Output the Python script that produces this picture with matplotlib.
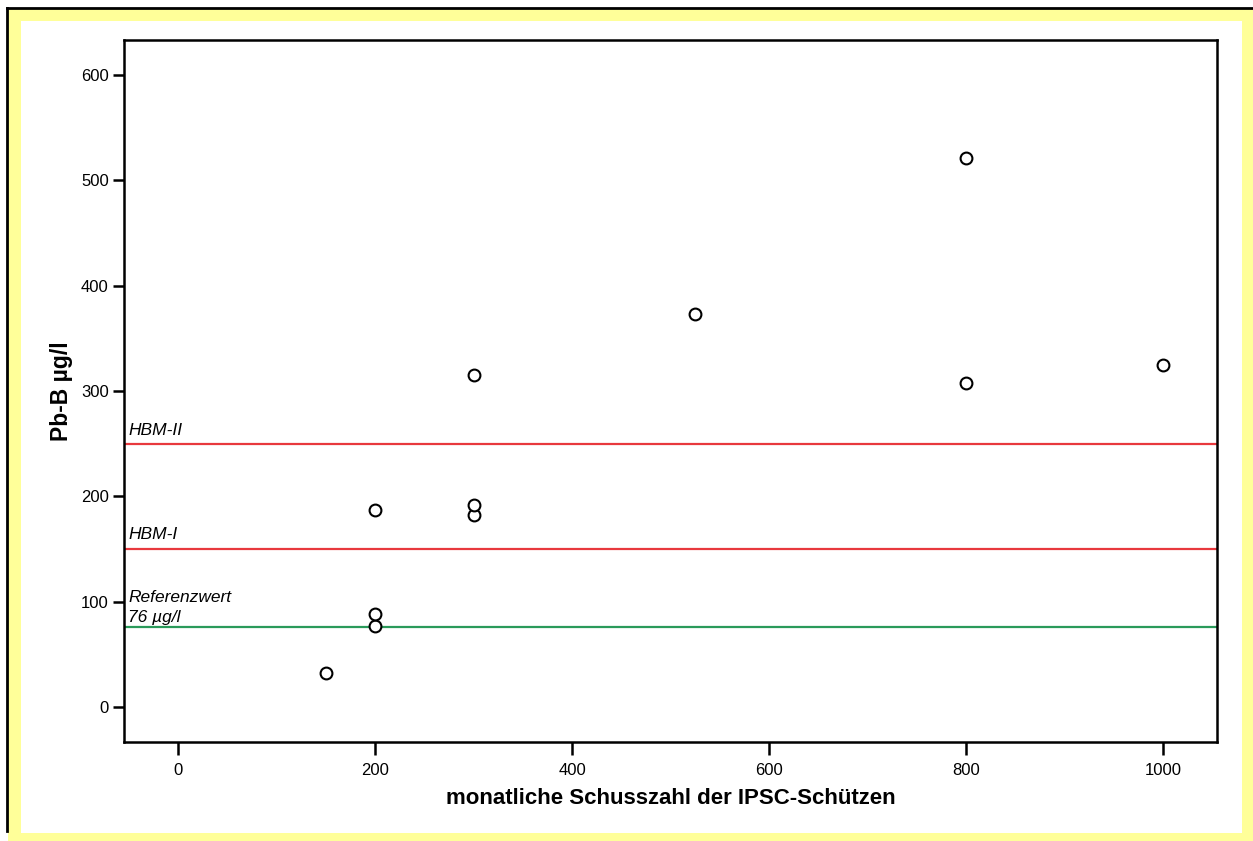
import matplotlib.pyplot as plt
from matplotlib.patches import Rectangle
from matplotlib.lines import Line2D

# monatliche Schusszahl vs. Blutbleispiegel
schusszahl = [150, 200, 200, 200, 300, 300, 300, 525, 800, 800, 1000]
pb_b = [32, 77, 88, 187, 182, 192, 315, 373, 308, 521, 325]

# Grenzwerte
hbm_ii = 250
hbm_i = 150
referenz = 76

x_ticks = [0, 200, 400, 600, 800, 1000]
y_ticks = [0, 100, 200, 300, 400, 500, 600]

plt.rcParams['font.family'] = ['Liberation Sans', 'DejaVu Sans']

W, H = 1253, 841
fig = plt.figure(figsize=(W / 100, H / 100), dpi=100, facecolor='white')

# gelber Rahmen mit schwarzer Kante links/oben
fig.patches.append(Rectangle((8 / W, 0), 1 - 8 / W, 1 - 9 / H, transform=fig.transFigure,
                             facecolor='#ffff99', edgecolor='none', zorder=-2))
fig.patches.append(Rectangle((21 / W, 1 - 833 / H), (1242 - 21) / W, (833 - 21) / H,
                             transform=fig.transFigure, facecolor='white', edgecolor='none', zorder=-1))
fig.lines.append(Line2D([7 / W, 7 / W], [1 - 8 / H, 1 - 831 / H], transform=fig.transFigure,
                        color='black', lw=2, zorder=-1))
fig.lines.append(Line2D([7 / W, 1], [1 - 8 / H, 1 - 8 / H], transform=fig.transFigure,
                        color='black', lw=2, zorder=-1))

ax = fig.add_axes([124 / W, 1 - 742 / H, (1217 - 124) / W, (742 - 40) / H])
ax.set_zorder(1)
ax.set_facecolor('none')

ax.axhline(hbm_ii, color='#e8383d', lw=1.6, zorder=2)
ax.axhline(hbm_i, color='#e8383d', lw=1.6, zorder=2)
ax.axhline(referenz, color='#2a9a5a', lw=1.6, zorder=2)

ax.plot(schusszahl, pb_b, 'o', ms=8.5, mfc='white', mec='black', mew=1.5, zorder=3)

lbl = dict(transform=ax.get_yaxis_transform(), style='italic', fontsize=12.5, va='baseline', ha='left')
ax.text(0.004, hbm_ii + 8.5, 'HBM-II', **lbl)
ax.text(0.004, hbm_i + 9.5, 'HBM-I', **lbl)
ax.text(0.004, referenz + 23.5, 'Referenzwert', **lbl)
ax.text(0.004, referenz + 4.8, '76 µg/l', **lbl)

ax.set_xlim(-55, 1055)
ax.set_ylim(-33, 633)
ax.set_xticks(x_ticks)
ax.set_yticks(y_ticks)
ax.tick_params(axis='both', direction='out', width=1.8, labelsize=12, color='black')
ax.tick_params(axis='x', length=9, pad=6)
ax.tick_params(axis='y', length=8, pad=3)
for s in ax.spines.values():
    s.set_linewidth(1.8)

ax.set_xlabel('monatliche Schusszahl der IPSC-Schützen', fontsize=16, fontweight='bold', labelpad=7)
ax.set_ylabel('Pb-B µg/l', fontsize=16.5, fontweight='bold', labelpad=6)

fig.savefig('out.png', dpi=100)
